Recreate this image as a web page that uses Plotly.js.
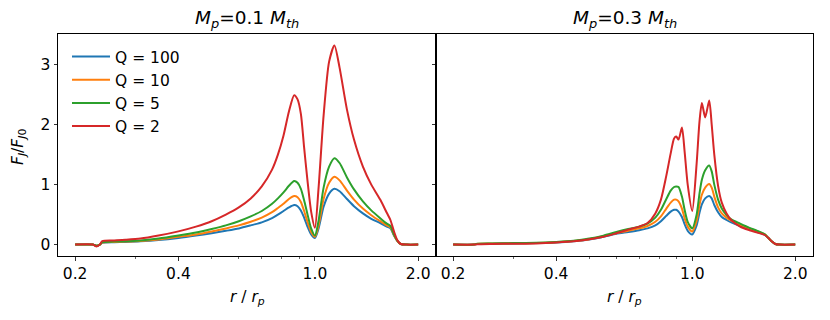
<!DOCTYPE html>
<html>
<head>
<meta charset="utf-8">
<script src="https://cdn.plot.ly/plotly-3.0.1.min.js"></script>
<style>html,body{margin:0;padding:0;background:#fff;}#chart{width:830px;height:320px;}</style>
</head>
<body>
<div id="chart"></div>
<script>
// ---- data ----
var seriesNames = ['Q = 100', 'Q = 10', 'Q = 5', 'Q = 2'];
var panelTitles = ['<i>M</i><sub><i>p</i></sub>=0.1 <i>M</i><sub><i>th</i></sub>',
                   '<i>M</i><sub><i>p</i></sub>=0.3 <i>M</i><sub><i>th</i></sub>'];
var tickVals = [0.2, 0.4, 1.0, 2.0];
var tickText = ['0.2', '0.4', '1.0', '2.0'];
var minorTickVals = [0.3, 0.5, 0.6, 0.7, 0.8, 0.9];
var yTickVals = [0, 1, 2, 3];

var xLeft = [0.2, 0.225, 0.231, 0.236, 0.24, 0.26, 0.28, 0.31, 0.35, 0.4, 0.45, 0.5, 0.55, 0.6, 0.65, 0.7, 0.75, 0.78, 0.81, 0.84, 0.87, 0.89, 0.91, 0.93, 0.95, 0.975, 1.0, 1.025, 1.06, 1.1, 1.14, 1.18, 1.24, 1.3, 1.38, 1.46, 1.55, 1.62, 1.66, 1.70, 1.74, 1.78, 1.85, 2.0];
var q100Left = [0, 0, -0.02, 0.0, 0.03, 0.04, 0.045, 0.055, 0.075, 0.11, 0.15, 0.19, 0.23, 0.27, 0.32, 0.37, 0.44, 0.50, 0.56, 0.62, 0.66, 0.64, 0.57, 0.45, 0.31, 0.17, 0.11, 0.27, 0.63, 0.85, 0.93, 0.89, 0.76, 0.64, 0.52, 0.43, 0.36, 0.30, 0.27, 0.15, 0.06, 0.01, 0, 0];
var q10Left  = [0, 0, -0.02, 0.0, 0.035, 0.045, 0.05, 0.06, 0.085, 0.13, 0.17, 0.22, 0.27, 0.32, 0.38, 0.45, 0.54, 0.61, 0.68, 0.76, 0.81, 0.79, 0.71, 0.56, 0.39, 0.21, 0.13, 0.32, 0.76, 1.03, 1.13, 1.07, 0.90, 0.75, 0.60, 0.49, 0.39, 0.32, 0.29, 0.16, 0.06, 0.01, 0, 0];
var q5Left   = [0, 0, -0.02, 0.0, 0.04, 0.05, 0.055, 0.07, 0.10, 0.15, 0.20, 0.26, 0.32, 0.39, 0.47, 0.56, 0.68, 0.77, 0.87, 0.98, 1.06, 1.03, 0.93, 0.74, 0.52, 0.27, 0.15, 0.40, 0.95, 1.30, 1.44, 1.36, 1.12, 0.92, 0.72, 0.57, 0.44, 0.35, 0.31, 0.17, 0.06, 0.01, 0, 0];
var q2Left   = [0, 0, -0.03, 0.0, 0.06, 0.07, 0.08, 0.10, 0.15, 0.22, 0.30, 0.39, 0.50, 0.62, 0.77, 0.97, 1.25, 1.50, 1.82, 2.22, 2.49, 2.42, 2.18, 1.62, 1.10, 0.55, 0.28, 0.95, 2.15, 3.05, 3.32, 2.95, 2.25, 1.75, 1.30, 1.00, 0.75, 0.53, 0.41, 0.22, 0.07, 0.01, 0, 0];

var xRight = [0.2, 0.23, 0.235, 0.26, 0.3, 0.35, 0.4, 0.45, 0.5, 0.55, 0.6, 0.65, 0.7, 0.74, 0.78, 0.81, 0.84, 0.865, 0.885, 0.898, 0.912, 0.933, 0.95, 0.97, 1.0, 1.03, 1.05, 1.067, 1.091, 1.121, 1.14, 1.16, 1.19, 1.22, 1.26, 1.3, 1.38, 1.47, 1.55, 1.63, 1.67, 1.71, 1.75, 1.8, 2.0];
var q100Right = [0, 0, 0.01, 0.015, 0.02, 0.025, 0.035, 0.055, 0.085, 0.13, 0.18, 0.21, 0.24, 0.27, 0.32, 0.39, 0.48, 0.55, 0.58, 0.58, 0.55, 0.46, 0.34, 0.23, 0.17, 0.32, 0.53, 0.67, 0.77, 0.81, 0.77, 0.66, 0.54, 0.46, 0.41, 0.37, 0.31, 0.26, 0.21, 0.16, 0.11, 0.05, 0.01, 0, 0];
var q10Right  = [0, 0, 0.012, 0.017, 0.022, 0.027, 0.04, 0.06, 0.09, 0.14, 0.19, 0.23, 0.27, 0.31, 0.38, 0.47, 0.60, 0.70, 0.75, 0.75, 0.72, 0.60, 0.44, 0.30, 0.22, 0.40, 0.66, 0.83, 0.95, 1.01, 0.95, 0.80, 0.62, 0.52, 0.45, 0.40, 0.33, 0.27, 0.22, 0.17, 0.11, 0.05, 0.01, 0, 0];
var q5Right   = [0, 0, 0.015, 0.02, 0.025, 0.03, 0.045, 0.065, 0.10, 0.15, 0.21, 0.26, 0.30, 0.35, 0.45, 0.58, 0.76, 0.90, 0.96, 0.97, 0.96, 0.80, 0.58, 0.38, 0.27, 0.50, 0.85, 1.08, 1.24, 1.32, 1.22, 1.00, 0.75, 0.60, 0.49, 0.42, 0.35, 0.28, 0.23, 0.17, 0.11, 0.05, 0.01, 0, 0];
var q2Right   = [0, 0, 0.005, 0.01, 0.015, 0.02, 0.035, 0.055, 0.09, 0.13, 0.19, 0.25, 0.30, 0.36, 0.52, 0.75, 1.15, 1.52, 1.77, 1.80, 1.75, 1.95, 1.55, 1.0, 0.56, 1.35, 2.05, 2.36, 2.12, 2.40, 2.00, 1.50, 0.98, 0.70, 0.52, 0.41, 0.30, 0.24, 0.20, 0.16, 0.11, 0.05, 0.01, 0, 0];

// ---- styling ----
var colors = ['#1f77b4', '#ff7f0e', '#2ca02c', '#d62728'];
var FONT = 'DejaVu Sans, Liberation Sans, sans-serif';
var W = 830, H = 320;
function px(x) { return x / W; }
function py(y) { return 1 - y / H; }

var leftSeries = [q100Left, q10Left, q5Left, q2Left];
var rightSeries = [q100Right, q10Right, q5Right, q2Right];
var traces = [];
for (var i = 0; i < 4; i++) {
  traces.push({
    x: xLeft, y: leftSeries[i], type: 'scatter', mode: 'lines',
    name: seriesNames[i], legendgroup: 'g' + i, showlegend: true,
    line: {color: colors[i], width: 2, shape: 'spline', smoothing: 0.7},
    xaxis: 'x', yaxis: 'y', hoverinfo: 'skip'
  });
}
for (var j = 0; j < 4; j++) {
  traces.push({
    x: xRight, y: rightSeries[j], type: 'scatter', mode: 'lines',
    name: seriesNames[j], legendgroup: 'g' + j, showlegend: false,
    line: {color: colors[j], width: 2, shape: 'spline', smoothing: 0.7},
    xaxis: 'x2', yaxis: 'y2', hoverinfo: 'skip'
  });
}

function xaxisDef(domain, anchor) {
  return {
    type: 'log', domain: domain, anchor: anchor,
    range: [-0.749, 0.353],
    tickmode: 'array', tickvals: tickVals, ticktext: tickText,
    ticks: 'outside', ticklen: 3.5, tickwidth: 0.8, tickcolor: '#000',
    showline: true, linecolor: '#000', linewidth: 1, mirror: true,
    showgrid: false, zeroline: false,
    tickfont: {family: FONT, size: 15.5, color: '#000'},
    minor: {tickmode: 'array', tickvals: minorTickVals, ticks: 'outside', ticklen: 2, tickwidth: 0.6, tickcolor: '#000', showgrid: false}
  };
}
function yaxisDef(anchor, labels) {
  return {
    domain: [py(256), py(34)], anchor: anchor,
    range: [-0.19, 3.51],
    tickmode: 'array', tickvals: yTickVals,
    ticks: 'outside', ticklen: 3.5, tickwidth: 0.8, tickcolor: '#000',
    showticklabels: labels,
    showline: true, linecolor: '#000', linewidth: 1, mirror: true,
    showgrid: false, zeroline: false,
    tickfont: {family: FONT, size: 15.5, color: '#000'}
  };
}

function ann(text, x, y, size, angle) {
  return {text: text, xref: 'paper', yref: 'paper', x: px(x), y: py(y),
          xanchor: 'center', yanchor: 'middle', showarrow: false,
          textangle: angle || 0, font: {family: FONT, size: size, color: '#000'}};
}

var layout = {
  width: W, height: H,
  margin: {l: 0, r: 0, t: 0, b: 0, pad: 0},
  paper_bgcolor: '#fff', plot_bgcolor: '#fff',
  font: {family: FONT, color: '#000'},
  showlegend: true,
  legend: {
    x: px(67), y: py(40), xanchor: 'left', yanchor: 'top',
    bgcolor: 'rgba(255,255,255,0)', borderwidth: 0,
    font: {family: FONT, size: 15.5, color: '#000'},
    tracegroupgap: 0, itemwidth: 38
  },
  xaxis: xaxisDef([px(58), px(436)], 'y'),
  yaxis: yaxisDef('x', true),
  xaxis2: xaxisDef([px(436), px(813)], 'y2'),
  yaxis2: yaxisDef('x2', false),
  annotations: [
    ann(panelTitles[0], 247, 19, 18.5),
    ann(panelTitles[1], 624.5, 19, 18.5),
    ann('<i>r</i> / <i>r</i><sub><i>p</i></sub>', 247, 298, 15.5),
    ann('<i>r</i> / <i>r</i><sub><i>p</i></sub>', 624.5, 298, 15.5),
    ann('<i>F</i><sub><i>J</i></sub>/<i>F</i><sub><i>J</i>0</sub>', 19, 147, 15.5, -90)
  ]
};

Plotly.newPlot('chart', traces, layout, {displayModeBar: false, staticPlot: true});
</script>
</body>
</html>
